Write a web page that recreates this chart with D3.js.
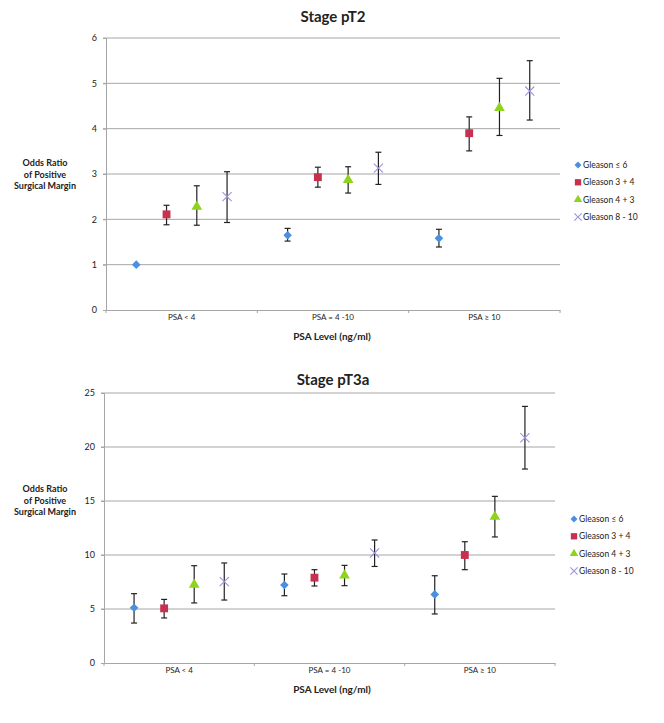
<!DOCTYPE html>
<html>
<head>
<meta charset="utf-8">
<script src="https://cdn.jsdelivr.net/npm/d3@7/dist/d3.min.js"></script>
<style>
  body { margin: 0; background: #fff; }
  text { font-family: Lato, "Open Sans", sans-serif; fill: #222; }
</style>
</head>
<body>
<svg width="664" height="723"></svg>
<script>
const categories = ['PSA  < 4', 'PSA  = 4 -10', 'PSA  \u2265 10'];
const seriesNames = ['Gleason \u2264 6', 'Gleason 3 + 4', 'Gleason 4 + 3', 'Gleason 8 - 10'];
const seriesColors = ['#4a8fe0', '#c8304f', '#8ed31c', '#9c94dc'];

// Stage pT2: odds ratio, lower and upper bounds per series (one value per PSA category)
const pt2Odds  = [[1.00, 1.65, 1.58], [2.11, 2.93, 3.90], [2.28, 2.87, 4.46], [2.50, 3.13, 4.83]];
const pt2Lower = [[null, 1.52, 1.39], [1.88, 2.71, 3.51], [1.87, 2.58, 3.85], [1.93, 2.77, 4.19]];
const pt2Upper = [[null, 1.80, 1.78], [2.31, 3.15, 4.26], [2.74, 3.16, 5.11], [3.05, 3.48, 5.50]];
const pt2Ticks = [0, 1, 2, 3, 4, 5, 6];

// Stage pT3a
const pt3Odds  = [[5.12, 7.22, 6.35], [5.06, 7.90, 10.0], [7.25, 8.11, 13.55], [7.53, 10.19, 20.86]];
const pt3Lower = [[3.70, 6.23, 4.54], [4.17, 7.13, 8.64], [5.56, 7.16, 11.67], [5.83, 8.94, 17.96]];
const pt3Upper = [[6.42, 8.24, 8.08], [5.89, 8.64, 11.23], [9.01, 9.04, 15.43], [9.26, 11.39, 23.76]];
const pt3Ticks = [0, 5, 10, 15, 20, 25];

const svg = d3.select('svg');

const symbolFor = (i, size) => {
  if (i === 0) return d3.symbol(d3.symbolSquare, size * 0.6)();
  if (i === 1) return d3.symbol(d3.symbolSquare, size)();
  if (i === 2) return d3.symbol(d3.symbolTriangle, size * 0.8)();
  return d3.symbol(d3.symbolTimes, size * 0.9)();
};

const drawMarker = (g, i, x, y, size) => {
  const p = g.append('path')
    .attr('d', symbolFor(i, size))
    .attr('transform', `translate(${x},${y})` + (i === 0 ? ' rotate(45)' : ''));
  if (i === 3) {
    p.attr('fill', 'none').attr('stroke', seriesColors[i]).attr('stroke-width', 1.1);
  } else {
    p.attr('fill', seriesColors[i]);
  }
};

function drawPanel(cfg) {
  const g = svg.append('g');

  const x = d3.scaleBand().domain(categories).range([cfg.left, cfg.right]);
  const inner = d3.scalePoint().domain(d3.range(seriesNames.length))
    .range([0, x.bandwidth()]).padding(1);
  const y = d3.scaleLinear().domain([0, d3.max(cfg.ticks)]).range([cfg.bottom, cfg.top]);

  // title
  g.append('text')
    .attr('x', 333).attr('y', cfg.titleY)
    .attr('text-anchor', 'middle')
    .attr('font-size', 15).attr('font-weight', 'bold')
    .text(cfg.title);

  // gridlines
  g.append('g').selectAll('line')
    .data(cfg.ticks.slice(1))
    .enter().append('line')
      .attr('x1', cfg.left - 3).attr('x2', cfg.right)
      .attr('y1', d => y(d)).attr('y2', d => y(d))
      .attr('stroke', '#a6a6a6').attr('stroke-width', 1);

  // y axis
  const yAxis = g.append('g')
    .attr('transform', `translate(${cfg.left},0)`)
    .call(d3.axisLeft(y).tickValues(cfg.ticks).tickFormat(d3.format('d')).tickSize(3).tickPadding(6));
  yAxis.select('.domain').attr('stroke', '#a6a6a6');
  yAxis.selectAll('.tick line').attr('stroke', '#a6a6a6');
  yAxis.selectAll('text').attr('font-size', 9).attr('font-family', 'Lato, sans-serif').attr('fill', '#333');

  // x axis
  const xAxis = g.append('g')
    .attr('transform', `translate(0,${cfg.bottom})`)
    .call(d3.axisBottom(x).tickSize(0).tickPadding(4));
  xAxis.select('.domain').attr('stroke', '#a6a6a6');
  xAxis.selectAll('text').attr('font-size', 8).attr('font-family', 'Lato, sans-serif').attr('fill', '#333');
  xAxis.selectAll('.sep')
    .data(categories.map(c => x(c)).concat([cfg.right]))
    .enter().append('line')
      .attr('x1', d => d).attr('x2', d => d)
      .attr('y1', 0).attr('y2', 3)
      .attr('stroke', '#a6a6a6');

  // axis titles
  g.append('text')
    .attr('x', 332).attr('y', cfg.bottom + 30)
    .attr('text-anchor', 'middle')
    .attr('font-size', 10).attr('font-weight', 'bold')
    .text('PSA Level (ng/ml)');

  const yTitle = g.append('text')
    .attr('text-anchor', 'middle')
    .attr('font-size', 9).attr('font-weight', 'bold');
  ['Odds Ratio', 'of Positive', 'Surgical Margin'].forEach((t, k) => {
    yTitle.append('tspan').attr('x', 45).attr('y', cfg.yTitleY + k * 11.5).text(t);
  });

  // error bars and markers
  seriesNames.forEach((name, i) => {
    categories.forEach((c, j) => {
      const cx = x(c) + inner(i);
      const lo = cfg.lower[i][j], hi = cfg.upper[i][j];
      if (lo != null && hi != null) {
        const eb = g.append('g').attr('stroke', '#222').attr('stroke-width', 1.2);
        eb.append('line').attr('x1', cx).attr('x2', cx).attr('y1', y(lo)).attr('y2', y(hi));
        eb.append('line').attr('x1', cx - 3).attr('x2', cx + 3).attr('y1', y(lo)).attr('y2', y(lo));
        eb.append('line').attr('x1', cx - 3).attr('x2', cx + 3).attr('y1', y(hi)).attr('y2', y(hi));
      }
      drawMarker(g, i, cx, y(cfg.odds[i][j]), 62);
    });
  });

  // legend
  const leg = g.append('g');
  seriesNames.forEach((name, i) => {
    const ly = cfg.legendY + i * 17.3;
    drawMarker(leg, i, cfg.legendX, ly, 40);
    leg.append('text')
      .attr('x', cfg.legendX + 5).attr('y', ly + 3)
      .attr('font-size', 8.5)
      .text(name);
  });
}

drawPanel({
  title: 'Stage pT2', titleY: 22,
  left: 106, right: 560, top: 38, bottom: 310,
  ticks: pt2Ticks, odds: pt2Odds, lower: pt2Lower, upper: pt2Upper,
  yTitleY: 166, legendX: 578, legendY: 165
});

drawPanel({
  title: 'Stage pT3a', titleY: 385,
  left: 104, right: 555, top: 393, bottom: 663,
  ticks: pt3Ticks, odds: pt3Odds, lower: pt3Lower, upper: pt3Upper,
  yTitleY: 492, legendX: 574, legendY: 519
});
</script>
</body>
</html>
